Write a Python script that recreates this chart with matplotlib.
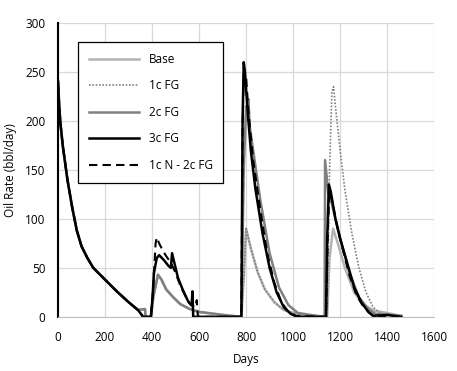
import matplotlib
matplotlib.use("Agg")
import matplotlib.pyplot as plt

plt.rcParams['font.family'] = ['Open Sans', 'DejaVu Sans']

# primary depletion, shared by all cases
primary_days = [0, 5, 10, 20, 40, 60, 80, 100, 125, 150, 175, 200, 250, 300, 340, 362]
primary_rate = [240, 215, 198, 175, 140, 112, 88, 72, 60, 50, 44, 38, 26, 15, 7, 0]

base_days = primary_days[:-1] + [370, 372, 395, 405, 425, 440, 460, 490, 520, 560, 600, 700, 775,
                                 780, 790, 800, 820, 850, 880, 920, 960, 1000, 1050, 1100, 1140,
                                 1145, 1155, 1170, 1190, 1220, 1260, 1300, 1350, 1400, 1460]
base_rate = primary_rate[:-1] + [8, 0, 0, 20, 43, 38, 28, 20, 13, 8, 5, 2, 0,
                                 0, 40, 90, 70, 45, 28, 15, 7, 4, 2, 1, 0,
                                 0, 60, 90, 75, 50, 25, 12, 6, 4, 1]

fg1_days = base_days[:-10] + [1145, 1155, 1165, 1172, 1180, 1200, 1220, 1250, 1280, 1310, 1340, 1370, 1400, 1460]
fg1_rate = base_rate[:-10] + [0, 150, 230, 235, 215, 170, 130, 85, 50, 25, 10, 4, 2, 1]

fg2_days = primary_days[:-1] + [370, 372, 395, 405, 425, 440, 460, 490, 520, 560, 600, 700, 775,
                                780, 790, 800, 805, 810, 815, 830, 860, 900, 940, 980, 1020, 1100, 1132,
                                1134, 1136, 1150, 1160, 1180, 1200, 1240, 1280, 1320, 1350, 1400, 1460]
fg2_rate = primary_rate[:-1] + [8, 0, 0, 20, 43, 38, 28, 20, 13, 8, 5, 2, 0,
                                0, 150, 215, 200, 222, 195, 170, 120, 65, 30, 12, 4, 1, 0,
                                0, 160, 125, 120, 100, 80, 45, 20, 8, 3, 2, 1]

fg3_days = primary_days + [395, 402, 408, 420, 430, 450, 470, 480, 485, 495, 510, 530, 555, 568, 572, 575, 780,
                           785, 790, 795, 805, 820, 840, 870, 900, 930, 960, 990, 1020, 1140,
                           1145, 1152, 1160, 1180, 1200, 1230, 1260, 1290, 1320, 1340, 1400, 1460]
fg3_rate = primary_rate + [0, 20, 45, 60, 63, 58, 52, 50, 65, 55, 40, 28, 15, 12, 26, 0, 0,
                           200, 260, 250, 215, 170, 130, 85, 50, 25, 10, 3, 0, 0,
                           80, 135, 128, 100, 80, 55, 30, 15, 5, 1, 2, 0]

n1fg2_days = primary_days + [395, 405, 415, 420, 430, 445, 460, 480, 500, 520, 540, 565, 585, 590, 595, 780,
                             785, 790, 800, 810, 830, 860, 890, 920, 950, 980, 1010, 1140,
                             1148, 1155, 1165, 1185, 1210, 1240, 1270, 1300, 1330, 1350, 1460]
n1fg2_rate = primary_rate + [0, 30, 75, 81, 75, 68, 62, 55, 45, 32, 22, 12, 10, 17, 0, 0,
                             190, 255, 245, 210, 160, 110, 65, 35, 15, 5, 1, 0,
                             90, 128, 120, 95, 70, 42, 22, 10, 3, 1, 0]

fig = plt.figure(figsize=(4.57, 3.71), dpi=100)
ax = fig.add_axes([0.127, 0.146, 0.823, 0.792])

ax.plot(base_days, base_rate, color='#b3b3b3', lw=1.8, label='Base')
ax.plot(fg1_days, fg1_rate, color='#808080', lw=1.2, ls=(0, (1, 1)), label='1c FG')
ax.plot(fg2_days, fg2_rate, color='#808080', lw=1.8, label='2c FG')
ax.plot(fg3_days, fg3_rate, color='black', lw=1.8, label='3c FG')
ax.plot(n1fg2_days, n1fg2_rate, color='black', lw=1.5, ls=(0, (4, 2.5)), label='1c N - 2c FG')

ax.set_xlim(0, 1600)
ax.set_ylim(0, 300)
ax.set_xticks(range(0, 1601, 200))
ax.set_yticks(range(0, 301, 50))
ax.grid(True, color='#d9d9d9', lw=0.9)
ax.set_axisbelow(True)
ax.tick_params(length=0, labelsize=8.5)
ax.tick_params(axis='x', pad=10)
ax.tick_params(axis='y', pad=9)
for s in ['top', 'right']:
    ax.spines[s].set_visible(False)
ax.spines['bottom'].set_color('#bfbfbf')
ax.spines['left'].set_color('black')
ax.spines['left'].set_linewidth(1.5)

ax.set_xlabel('Days', fontsize=8.5, labelpad=7)
ax.set_ylabel('Oil Rate (bbl/day)', fontsize=8.5, labelpad=6)

leg = ax.legend(loc='upper left', bbox_to_anchor=(0.053, 0.935), fontsize=8.5,
                handlelength=4.3, labelspacing=1.15, borderpad=0.9, fancybox=False,
                edgecolor='black', framealpha=1, borderaxespad=0)
leg.get_frame().set_linewidth(0.9)

fig.savefig('out.png', dpi=100)
